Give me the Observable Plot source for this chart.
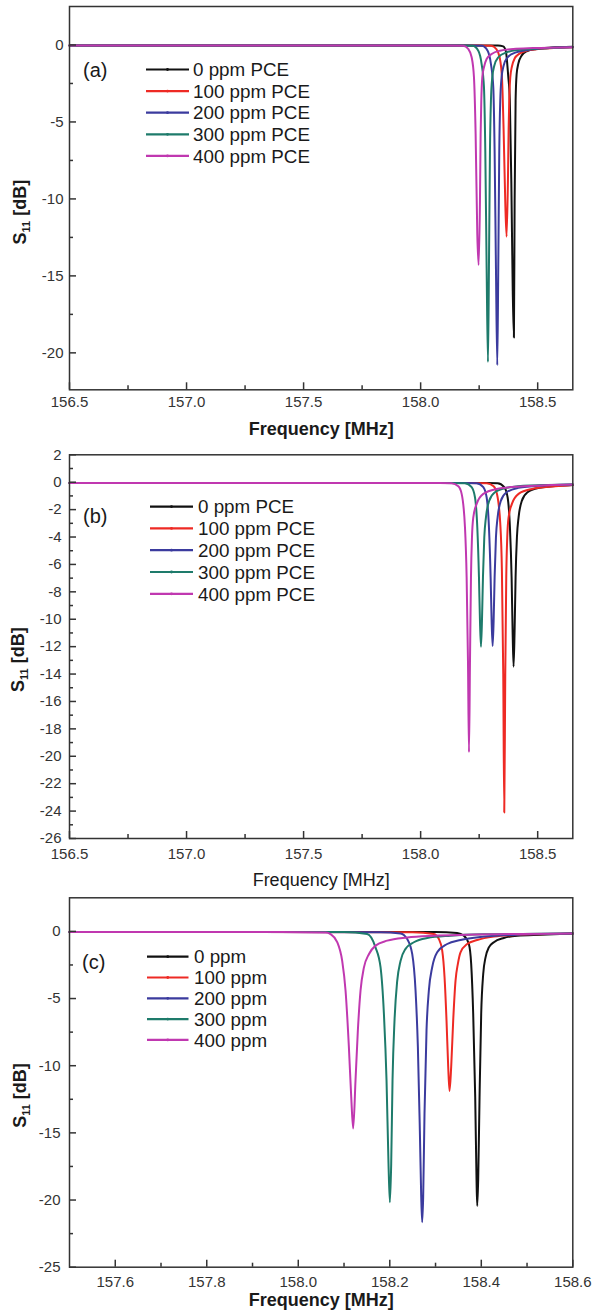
<!DOCTYPE html>
<html><head><meta charset="utf-8">
<script src="https://cdn.jsdelivr.net/npm/d3@7"></script>
<script src="https://cdn.jsdelivr.net/npm/@observablehq/plot@0.6"></script>
<style>
body{margin:0;background:#fff;width:592px;}
#chart svg{display:block;}
</style></head><body><div id="chart"></div>
<script>
const labelsPCE = ["0 ppm PCE","100 ppm PCE","200 ppm PCE","300 ppm PCE","400 ppm PCE"];
const labelsPPM = ["0 ppm","100 ppm","200 ppm","300 ppm","400 ppm"];
const seriesColors = ["#111111","#ee2a24","#3b3b9e","#1e7b6b","#c038b0"];

// Panel (a): [frequency MHz, S11 dB]
const a0 = [[156.5,-0.03],[158.25,-0.03],[158.33,-0.04],[158.353,-0.09],[158.364,-0.4],[158.374,-2.0],[158.381,-3.6],[158.3875,-9],[158.3935,-16],[158.3985,-19.0],[158.4015,-10.1],[158.4057,-3.6],[158.410,-1.9],[158.417,-1.23],[158.431,-0.70],[158.453,-0.41],[158.495,-0.26],[158.560,-0.17],[158.648,-0.12]];
const a100 = [[156.5,-0.03],[158.25,-0.03],[158.3018,-0.05],[158.3231,-0.26],[158.3374,-0.8],[158.3473,-2.1],[158.3544,-5.5],[158.3615,-10.2],[158.3672,-12.45],[158.3729,-8.8],[158.3758,-5.5],[158.3786,-3.5],[158.3829,-2.1],[158.3900,-1.4],[158.4014,-0.88],[158.4227,-0.56],[158.4582,-0.35],[158.5152,-0.24],[158.5802,-0.18],[158.65,-0.14]];
const a200 = [[156.5,-0.03],[158.2,-0.03],[158.2619,-0.05],[158.2861,-0.37],[158.3003,-1.24],[158.3103,-2.75],[158.3160,-6.87],[158.3217,-14.45],[158.3274,-20.8],[158.3316,-14.45],[158.3359,-6.87],[158.3401,-3.62],[158.3458,-2.1],[158.3544,-1.35],[158.3714,-0.8],[158.4070,-0.48],[158.4639,-0.31],[158.5492,-0.2],[158.65,-0.13]];
const a300 = [[156.5,-0.03],[158.15,-0.03],[158.2221,-0.05],[158.2463,-0.37],[158.2605,-1.24],[158.2705,-2.75],[158.2762,-6.87],[158.2819,-14.45],[158.2876,-20.6],[158.2918,-14.45],[158.2961,-6.87],[158.3003,-3.62],[158.3060,-2.1],[158.3146,-1.35],[158.3316,-0.8],[158.3672,-0.48],[158.4241,-0.31],[158.5094,-0.22],[158.65,-0.14]];
const a400 = [[156.5,-0.03],[158.1,-0.03],[158.1823,-0.05],[158.2036,-0.26],[158.2179,-0.8],[158.2278,-2.1],[158.2349,-5.78],[158.2420,-12.28],[158.2477,-14.3],[158.2534,-10.12],[158.2563,-5.78],[158.2591,-3.62],[158.2634,-2.1],[158.2705,-1.45],[158.2819,-0.91],[158.3032,-0.59],[158.3387,-0.37],[158.3956,-0.26],[158.4810,-0.2],[158.65,-0.14]];

// Panel (b)
const b0 = [[156.5,-0.06],[158.25,-0.06],[158.3288,-0.07],[158.3573,-0.36],[158.3715,-1.1],[158.3814,-3.29],[158.3886,-6.95],[158.3928,-10.8],[158.3970,-13.46],[158.4014,-10.8],[158.4056,-6.95],[158.4113,-4.02],[158.4184,-2.56],[158.4326,-1.34],[158.4568,-0.73],[158.5066,-0.41],[158.6000,-0.24],[158.65,-0.2]];
const b100 = [[156.5,-0.06],[158.2,-0.06],[158.2832,-0.07],[158.3117,-0.3],[158.3259,-0.85],[158.3401,-3.0],[158.3472,-6.5],[158.3529,-14],[158.3572,-24.1],[158.3615,-14],[158.3657,-6.95],[158.3700,-4.02],[158.3757,-2.56],[158.3899,-1.58],[158.4183,-0.85],[158.4752,-0.49],[158.5748,-0.3],[158.65,-0.2]];
const b200 = [[156.5,-0.06],[158.15,-0.06],[158.2392,-0.07],[158.2677,-0.36],[158.2819,-1.1],[158.2918,-3.29],[158.2990,-6.95],[158.3032,-10.1],[158.3075,-11.95],[158.3118,-10.1],[158.3160,-6.95],[158.3217,-4.02],[158.3288,-2.56],[158.3430,-1.34],[158.3672,-0.73],[158.4170,-0.41],[158.5165,-0.24],[158.65,-0.17]];
const b300 = [[156.5,-0.06],[158.1,-0.06],[158.1894,-0.07],[158.2179,-0.36],[158.2321,-1.1],[158.2420,-3.29],[158.2492,-6.95],[158.2534,-10.1],[158.2577,-12.0],[158.2620,-10.1],[158.2662,-6.95],[158.2719,-4.02],[158.2790,-2.56],[158.2932,-1.34],[158.3174,-0.73],[158.3672,-0.41],[158.4667,-0.24],[158.65,-0.17]];
const b400 = [[156.5,-0.06],[158.05,-0.06],[158.1325,-0.07],[158.1610,-0.3],[158.1752,-0.85],[158.1894,-3.29],[158.1965,-6.95],[158.2022,-13.05],[158.2065,-19.7],[158.2108,-13.05],[158.2150,-6.95],[158.2193,-4.02],[158.2250,-2.56],[158.2392,-1.58],[158.2676,-0.85],[158.3245,-0.49],[158.4241,-0.31],[158.5378,-0.22],[158.65,-0.17]];

// Panel (c)
const c0 = [[157.5,-0.04],[158.3,-0.05],[158.3473,-0.12],[158.3619,-0.32],[158.3728,-0.94],[158.3779,-2.42],[158.3823,-6.13],[158.3867,-12.32],[158.3896,-18.51],[158.3911,-20.44],[158.3932,-18.51],[158.3962,-12.32],[158.3998,-6.13],[158.4042,-3.17],[158.4093,-1.93],[158.4166,-1.19],[158.4275,-0.81],[158.4493,-0.49],[158.4785,-0.32],[158.5295,-0.245],[158.6,-0.16]];
const c100 = [[157.5,-0.05],[158.25,-0.06],[158.2964,-0.2],[158.3073,-0.57],[158.3146,-1.43],[158.3197,-3.41],[158.3240,-6.63],[158.3277,-10.09],[158.3306,-11.88],[158.3342,-10.09],[158.3386,-6.63],[158.3437,-3.66],[158.3488,-2.42],[158.3546,-1.56],[158.3692,-0.94],[158.3911,-0.64],[158.4275,-0.39],[158.4785,-0.27],[158.6,-0.16]];
const c200 = [[157.5,-0.05],[158.18,-0.06],[158.2235,-0.15],[158.2381,-0.57],[158.2490,-1.68],[158.2563,-4.4],[158.2614,-8.6],[158.2657,-14.8],[158.2687,-19.75],[158.2708,-21.65],[158.2730,-19.75],[158.2759,-13.56],[158.2803,-7.37],[158.2854,-4.4],[158.2927,-2.67],[158.3036,-1.56],[158.3255,-0.94],[158.3546,-0.64],[158.4056,-0.39],[158.4785,-0.25],[158.6,-0.16]];
const c300 = [[157.5,-0.05],[158.1,-0.05],[158.1506,-0.2],[158.1688,-1.19],[158.1798,-2.67],[158.1871,-6.1],[158.1929,-11.1],[158.1972,-17.3],[158.2002,-20.17],[158.2031,-17.3],[158.2060,-11.1],[158.2104,-6.6],[158.2162,-3.7],[158.2235,-2.2],[158.2344,-1.3],[158.2526,-0.81],[158.2818,-0.49],[158.3328,-0.32],[158.4056,-0.22],[158.6,-0.15]];
const c400 = [[157.5,-0.05],[157.9,-0.05],[158.06,-0.08],[158.0705,-0.2],[158.0851,-0.8],[158.0960,-2.2],[158.1033,-4.4],[158.1106,-8.6],[158.1157,-12.3],[158.1200,-14.67],[158.1251,-11.1],[158.1302,-7.4],[158.1361,-4.4],[158.1434,-2.7],[158.1543,-1.7],[158.1688,-1.06],[158.1944,-0.69],[158.2381,-0.45],[158.2964,-0.32],[158.3692,-0.25],[158.6,-0.15]];

// Axis ticks
const xMajorAB = [156.5,157.0,157.5,158.0,158.5];
const xMinorAB = [156.75,157.25,157.75,158.25];
const yMajorA = [0,-5,-10,-15,-20];
const yMinorA = [-2.5,-7.5,-12.5,-17.5];
const yMajorB = [2,0,-2,-4,-6,-8,-10,-12,-14,-16,-18,-20,-22,-24,-26];
const yMinorB = [1,-1,-3,-5,-7,-9,-11,-13,-15,-17,-19,-21,-23,-25];
const xMajorC = [157.6,157.8,158.0,158.2,158.4,158.6];
const xMinorC = [157.7,157.9,158.1,158.3,158.5];
const yMajorC = [0,-5,-10,-15,-20,-25];
const yMinorC = [-2.5,-7.5,-12.5,-17.5,-22.5];

const FONT = "'Liberation Sans', Arial, Helvetica, sans-serif";
const AXC = "#333333";

const panels = [
  {tag:"(a)", labels:labelsPCE, curves:[a0,a100,a200,a300,a400], xDomain:[156.5,158.65], yDomain:[-22.4,2.5],
   xMajor:xMajorAB, xMinor:xMinorAB, yMajor:yMajorA, yMinor:yMinorA, height:440, mt:6, mb:50.7,
   xPad:6.3, yPad:6, xLabDy:39, xBold:true, yLabDx:-49, yLabDy:14,
   leg:{top:69.5, step:21.6, x1:146, x2:189, tx:193, tagX:83, tagY:70}},
  {tag:"(b)", labels:labelsPCE, curves:[b0,b100,b200,b300,b400], xDomain:[156.5,158.65], yDomain:[-26,2],
   xMajor:xMajorAB, xMinor:xMinorAB, yMajor:yMajorB, yMinor:yMinorB, height:450, mt:14.3, mb:52,
   xPad:9.4, yPad:8, xLabDy:41.5, xBold:false, yLabDx:-51, yLabDy:13,
   leg:{top:66.6, step:21.8, x1:150, x2:193, tx:198, tagX:83, tagY:76}},
  {tag:"(c)", labels:labelsPPM, curves:[c0,c100,c200,c300,c400], xDomain:[157.5,158.6], yDomain:[-25,2.5],
   xMajor:xMajorC, xMinor:xMinorC, yMajor:yMajorC, yMinor:yMinorC, height:420, mt:7.3, mb:43.3,
   xPad:9.2, yPad:9, xLabDy:33, xBold:true, yLabDx:-49, yLabDy:13,
   leg:{top:66.7, step:20.8, x1:147, x2:188.5, tx:194, tagX:82, tagY:71.7}}
];

const ML = 69, MR = 19.7, W = 592;
const chart = document.getElementById("chart");

for (const p of panels) {
  const rows = [];
  p.curves.forEach((c, i) => c.forEach(([f, db]) => rows.push({f, db, s: p.labels[i]})));
  const fh = p.height - p.mt - p.mb;
  const fw = W - ML - MR;
  const svg = Plot.plot({
    width: W, height: p.height,
    marginLeft: ML, marginRight: MR, marginTop: p.mt, marginBottom: p.mb,
    style: {fontFamily: FONT, fontSize: "15px", background: "#fff", color: AXC},
    x: {domain: p.xDomain, label: null},
    y: {domain: p.yDomain, label: null},
    color: {domain: p.labels, range: seriesColors},
    marks: [
      Plot.line(rows, {x: "f", y: "db", z: "s", stroke: "s", strokeWidth: 2, curve: "monotone-x"}),
      Plot.frame({stroke: AXC, strokeWidth: 1.5}),
      Plot.tickX(p.xMajor, {x: d => d, insetTop: fh - 7, stroke: AXC, strokeWidth: 1.5}),
      Plot.tickX(p.xMinor, {x: d => d, insetTop: fh - 4, stroke: AXC, strokeWidth: 1.5}),
      Plot.tickY(p.yMajor, {y: d => d, insetRight: fw - 7, stroke: AXC, strokeWidth: 1.5}),
      Plot.tickY(p.yMinor, {y: d => d, insetRight: fw - 4, stroke: AXC, strokeWidth: 1.5}),
      Plot.axisX({ticks: p.xMajor, tickSize: 0, tickPadding: p.xPad, tickFormat: d => d.toFixed(1), fontSize: 15, color: AXC, label: null}),
      Plot.axisY({ticks: p.yMajor, tickSize: 0, tickPadding: p.yPad, tickFormat: d => String(d), fontSize: 15, color: AXC, label: null}),
      Plot.text(["Frequency [MHz]"], {text: d => d, frameAnchor: "bottom", lineAnchor: "middle", textAnchor: "middle", dy: p.xLabDy, fontSize: 18, fontWeight: p.xBold ? "bold" : "normal", fill: "#1a1a1a"}),
      Plot.text(["S11 [dB]"], {text: d => d, frameAnchor: "left", lineAnchor: "middle", textAnchor: "middle", dx: p.yLabDx, dy: p.yLabDy, rotate: -90, fontSize: 18, fontWeight: "bold", fill: "#1a1a1a"})
    ]
  });
  const s = d3.select(svg);
  s.selectAll("text").filter(function(){ return this.textContent === "S11 [dB]"; }).each(function(){
    const t = d3.select(this);
    t.text(null);
    t.append("tspan").text("S");
    t.append("tspan").attr("dy", 4).attr("font-size", 11).text("11");
    t.append("tspan").attr("dy", -4).text(" [dB]");
  });
  const g = s.append("g").attr("font-family", FONT).attr("font-size", 18.8).attr("fill", "#1a1a1a").attr("text-anchor", "start");
  p.labels.forEach((lab, i) => {
    const y = p.leg.top + i * p.leg.step;
    g.append("line").attr("x1", p.leg.x1).attr("x2", p.leg.x2).attr("y1", y).attr("y2", y)
      .attr("stroke", seriesColors[i]).attr("stroke-width", 2.2);
    g.append("circle").attr("cx", (p.leg.x1 + p.leg.x2) / 2).attr("cy", y).attr("r", 1.4).attr("fill", seriesColors[i]);
    g.append("text").attr("x", p.leg.tx).attr("y", y).attr("dy", "0.36em").text(lab);
  });
  g.append("text").attr("x", p.leg.tagX).attr("y", p.leg.tagY).attr("dy", "0.36em").attr("font-size", 20).text(p.tag);
  chart.appendChild(svg);
}
</script>
</body></html>
